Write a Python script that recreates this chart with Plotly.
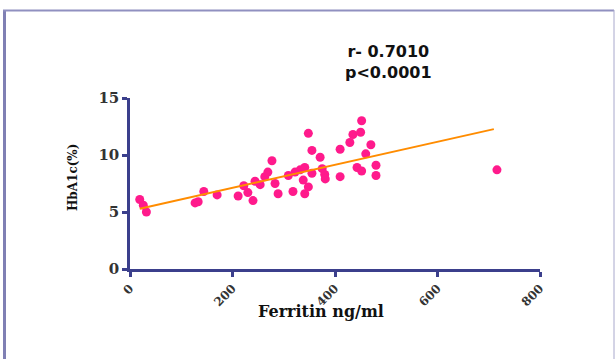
import plotly.graph_objects as go

ferritin = [19, 26, 32, 127, 133, 144, 170, 211, 222, 230, 240, 244, 254, 263, 269, 277,
            283, 289, 309, 318, 322, 332, 338, 341, 341, 348, 348, 355, 355, 371, 375,
            380, 381, 410, 410, 429, 435, 443, 450, 452, 452, 460, 470, 480, 480, 716]
hba1c = [6.1, 5.6, 5.0, 5.8, 5.9, 6.8, 6.5, 6.4, 7.3, 6.7, 6.0, 7.7, 7.4, 8.1, 8.5, 9.5,
         7.5, 6.6, 8.2, 6.8, 8.5, 8.7, 7.8, 8.9, 6.6, 11.9, 7.2, 10.4, 8.4, 9.8, 8.8,
         8.3, 7.9, 10.5, 8.1, 11.1, 11.8, 8.9, 12.0, 13.0, 8.6, 10.1, 10.9, 9.1, 8.2, 8.7]

fit_slope = 0.0101
fit_intercept = 5.1
fit_x = [19, 710]
fit_y = [fit_intercept + fit_slope * v for v in fit_x]

x_ticks = [0, 200, 400, 600, 800]
y_ticks = [0, 5, 10, 15]
stats_text = "<b>r- 0.7010<br>p<0.0001</b>"
x_title = "<b>Ferritin ng/ml</b>"
y_title = "<b>HbA1c(%)</b>"

axis_color = "#3b3f8c"
serif = "DejaVu Serif, serif"

def px(x):
    return (x - 130) / 410

def py(y):
    return (269 - y) / 171

fig = go.Figure()
fig.add_trace(go.Scatter(x=ferritin, y=hba1c, mode="markers",
                         marker=dict(color="#ff1a8c", size=9, line=dict(width=0)),
                         showlegend=False, hoverinfo="skip"))
fig.add_trace(go.Scatter(x=fit_x, y=fit_y, mode="lines",
                         line=dict(color="#ff8c00", width=2),
                         showlegend=False, hoverinfo="skip"))

fig.update_layout(
    width=616, height=359,
    margin=dict(l=130, r=76, t=98, b=90),
    paper_bgcolor="white", plot_bgcolor="white",
    xaxis=dict(range=[0, 800], tickvals=x_ticks, ticktext=[f"<b>{v}</b>" for v in x_ticks],
               showgrid=False, zeroline=False, showline=True, linecolor=axis_color,
               linewidth=2.5, ticks="outside", ticklen=5, tickwidth=2.5, tickcolor=axis_color,
               tickangle=-45, tickfont=dict(family=serif, size=12, color="#333")),
    yaxis=dict(range=[0, 15], tickvals=y_ticks, ticktext=[f"<b>{v}</b>" for v in y_ticks],
               showgrid=False, zeroline=False, showline=True, linecolor=axis_color,
               linewidth=2.5, ticks="outside", ticklen=5, tickwidth=2.5, tickcolor=axis_color,
               tickfont=dict(family=serif, size=15, color="#333")),
    annotations=[
        dict(text=stats_text, xref="paper", yref="paper", x=px(388), y=py(62),
             showarrow=False, xanchor="center", yanchor="middle", align="center",
             font=dict(family="DejaVu Sans, sans-serif", size=16, color="#111")),
        dict(text=x_title, xref="paper", yref="paper", x=px(321), y=py(311),
             showarrow=False, xanchor="center", yanchor="middle",
             font=dict(family=serif, size=16, color="#111")),
        dict(text=y_title, xref="paper", yref="paper", x=px(73), y=py(178),
             showarrow=False, xanchor="center", yanchor="middle", textangle=-90,
             font=dict(family=serif, size=12, color="#111")),
    ],
    shapes=[
        dict(type="line", xref="paper", yref="paper",
             x0=px(4.5), x1=px(4.5), y0=-0.6, y1=py(10),
             line=dict(color="#8080b4", width=3)),
        dict(type="line", xref="paper", yref="paper",
             x0=px(3), x1=px(614), y0=py(10.5), y1=py(10.5),
             line=dict(color="#9090c0", width=2)),
        dict(type="line", xref="paper", yref="paper",
             x0=px(614), x1=px(614), y0=-0.6, y1=py(10),
             line=dict(color="#a8a8cc", width=1)),
    ],
)

fig.write_html("out.html", config={"displayModeBar": False},
               post_script="document.body.style.margin='0';")
